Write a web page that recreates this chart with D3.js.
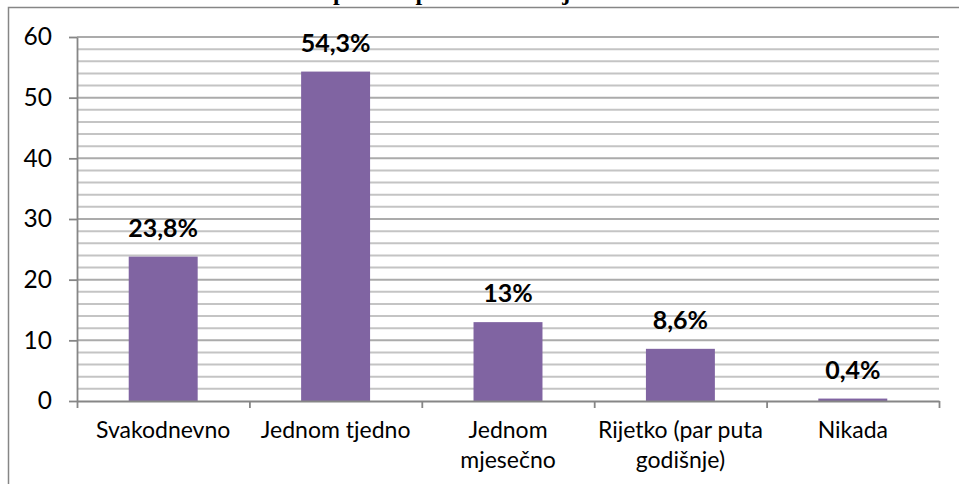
<!DOCTYPE html>
<html>
<head>
<meta charset="utf-8">
<script src="https://cdn.jsdelivr.net/npm/d3@7"></script>
<style>
  html, body { margin: 0; padding: 0; background: #fff; }
  svg { display: block; }
</style>
</head>
<body>
<svg id="chart" width="959" height="484"></svg>
<script>
const categories = [
  ["Svakodnevno"],
  ["Jednom tjedno"],
  ["Jednom", "mjesečno"],
  ["Rijetko (par puta", "godišnje)"],
  ["Nikada"]
];
const values = [23.8, 54.3, 13, 8.6, 0.4];
const valueLabels = ["23,8%", "54,3%", "13%", "8,6%", "0,4%"];
const yTicks = [0, 10, 20, 30, 40, 50, 60];
const titleText = "Koliko često pečete i pravite slatka jela?";

const W = 959, H = 484;
const plot = { left: 77, right: 939, top: 37, bottom: 401 };
const FONT = "Lato, 'Open Sans', sans-serif";

const svg = d3.select("#chart");

// outer chart frame (cut off at right and bottom)
svg.append("path")
  .attr("d", `M8.5,${H + 2} L8.5,7.5 L${W + 2},7.5`)
  .attr("fill", "none")
  .attr("stroke", "#868686")
  .attr("stroke-width", 1.5);

// title, cut off by the top edge as in the reference (only descenders visible)
const title = svg.append("text")
  .attr("x", 0)
  .attr("y", 0)
  .attr("font-family", "'Liberation Serif', 'Times New Roman', serif")
  .attr("font-weight", "bold")
  .attr("font-size", 24)
  .attr("fill", "#000")
  .text(titleText);
try {
  const pIdx = titleText.indexOf("p");
  const px = title.node().getStartPositionOfChar(pIdx).x;
  title.attr("x", 333 - px);
} catch (e) { title.attr("x", 200); }

const keys = d3.range(categories.length);
const x = d3.scaleBand().domain(keys).range([plot.left, plot.right]).paddingInner(0).paddingOuter(0);
const xb = d3.scaleLinear().domain([0, categories.length]).range([plot.left, plot.right]);
const y = d3.scaleLinear().domain([0, 60]).range([plot.bottom, plot.top]);

// gridlines every 2 units
const gridVals = d3.range(2, 61, 2);
svg.append("g").selectAll("line").data(gridVals).join("line")
  .attr("x1", plot.left).attr("x2", plot.right)
  .attr("y1", d => y(d)).attr("y2", d => y(d))
  .attr("stroke", d => d % 10 === 0 ? "#ababab" : "#c4c4c4")
  .attr("stroke-width", 2);

// bars
const barW = x.bandwidth() * 0.4;
svg.append("g").selectAll("rect").data(values).join("rect")
  .attr("x", (d, i) => x(i) + (x.bandwidth() - barW) / 2)
  .attr("width", barW)
  .attr("y", d => y(d))
  .attr("height", d => y(0) - y(d))
  .attr("fill", "#8064a2");

// y axis
const yAxis = svg.append("g")
  .attr("transform", `translate(${plot.left},0)`)
  .call(d3.axisLeft(y).tickValues(yTicks).tickSize(8).tickPadding(17).tickSizeOuter(0));
yAxis.select(".domain").attr("stroke", "#868686").attr("stroke-width", 1.8);
yAxis.selectAll(".tick line").attr("stroke", "#868686").attr("stroke-width", 1.8);
yAxis.selectAll(".tick text")
  .attr("font-family", FONT).attr("font-size", 24.5).attr("fill", "#000");

// x axis with ticks at category boundaries
const xAxis = svg.append("g")
  .attr("transform", `translate(0,${plot.bottom})`)
  .call(d3.axisBottom(xb).tickValues(d3.range(0, categories.length + 1)).tickSize(7).tickSizeOuter(0).tickFormat(""));
xAxis.select(".domain").attr("stroke", "#868686").attr("stroke-width", 1.8);
xAxis.selectAll(".tick line").attr("stroke", "#868686").attr("stroke-width", 1.8);

// category labels
const lab = svg.append("g").selectAll("text").data(categories).join("text")
  .attr("text-anchor", "middle")
  .attr("font-family", FONT)
  .attr("font-size", 23)
  .attr("fill", "#000");
lab.selectAll("tspan").data((d, i) => d.map(t => ({ t, i }))).join("tspan")
  .attr("x", d => x(d.i) + x.bandwidth() / 2)
  .attr("y", (d, j) => 438 + j * 30)
  .text(d => d.t);

// value labels
svg.append("g").selectAll("text").data(values).join("text")
  .attr("x", (d, i) => x(i) + x.bandwidth() / 2)
  .attr("y", d => y(d) - 20)
  .attr("text-anchor", "middle")
  .attr("font-family", FONT)
  .attr("font-weight", "bold")
  .attr("font-size", 25)
  .attr("fill", "#000")
  .text((d, i) => valueLabels[i]);
</script>
</body>
</html>
